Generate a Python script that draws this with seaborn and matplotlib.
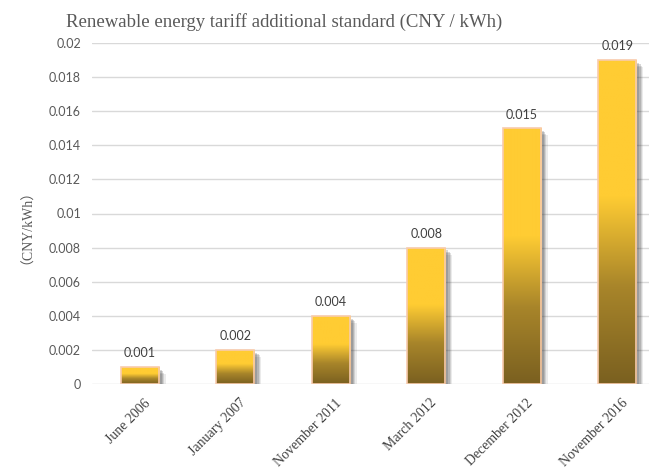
import numpy as np
import pandas as pd
import matplotlib
matplotlib.use("Agg")
import matplotlib.pyplot as plt
import seaborn as sns
from matplotlib.colors import LinearSegmentedColormap
from matplotlib.patches import Rectangle
import matplotlib.patheffects as pe
import matplotlib.transforms as mtransforms

dates = ["June 2006", "January 2007", "November 2011", "March 2012", "December 2012", "November 2016"]
values = [0.001, 0.002, 0.004, 0.008, 0.015, 0.019]
yticks = [0, 0.002, 0.004, 0.006, 0.008, 0.01, 0.012, 0.014, 0.016, 0.018, 0.02]
ytick_labels = ["0", "0.002", "0.004", "0.006", "0.008", "0.01", "0.012", "0.014", "0.016", "0.018", "0.02"]
title = "Renewable energy tariff additional standard (CNY / kWh)"
ylabel = "（CNY/kWh）"

sns.set_theme(style="white")
plt.rcParams['font.family'] = ['Liberation Serif', 'Noto Sans CJK SC', 'DejaVu Sans']

fig = plt.figure(figsize=(6.49, 4.76), dpi=100)
ax = fig.add_axes([92/649, 1-384/476, (649-92)/649, (384-43)/476])

df = pd.DataFrame({"date": dates, "value": values})
sns.barplot(data=df, x="date", y="value", color="#FFCC33", width=0.4,
            linewidth=0, ax=ax, zorder=2)

ax.set_ylim(0, 0.02)
ax.set_xlim(-0.5, -0.5 + (649-92)/95.5)

cmap = LinearSegmentedColormap.from_list(
    "g", [(0.0, "#7a6020"), (0.3, "#a8852a"), (0.58, "#FFCC33"), (1.0, "#FFCC33")])
grad = np.linspace(0, 1, 256).reshape(-1, 1)

shadow = [pe.SimplePatchShadow(offset=(o, -o), shadow_rgbFace="#404040", alpha=a)
          for o, a in [(5, 0.10), (4, 0.15), (3, 0.2), (2, 0.2)]]

for i, p in enumerate(ax.patches):
    x, y0 = p.get_x(), p.get_y()
    w, h = p.get_width(), p.get_height()
    p.set_path_effects(shadow)
    im = ax.imshow(grad, cmap=cmap, extent=[x, x + w, y0, y0 + h], origin="lower",
                   aspect="auto", zorder=3, interpolation="bilinear")
    im.set_clip_path(p)
    ax.add_patch(Rectangle((x, y0), w, h, facecolor="none", edgecolor="#F8CBAD",
                           linewidth=1.2, zorder=4))
    ax.text(x + w / 2, y0 + h + 0.00045, f"{values[i]:.3f}",
            ha="center", va="bottom", fontsize=9, color="#404040", family=["Lato", "DejaVu Sans"])

ax.set_aspect("auto")
ax.set_ylim(0, 0.02)
ax.set_xlim(-0.5, -0.5 + (649-92)/95.5)

ax.set_yticks(yticks)
ax.set_yticklabels(ytick_labels, fontsize=9, color="#595959", family=["Lato", "DejaVu Sans"])
ax.yaxis.grid(True, color="#D9D9D9", linewidth=1, zorder=0)
ax.set_axisbelow(True)
for s in ax.spines.values():
    s.set_visible(False)
ax.tick_params(axis="both", length=0)
ax.tick_params(axis="y", pad=8)

ax.set_xticks(range(len(dates)))
ax.set_xticklabels(dates, rotation=45, ha="right", rotation_mode="anchor",
                   fontsize=10, color="#404040")
ax.tick_params(axis="x", pad=9)
offset = mtransforms.ScaledTranslation(4/100, 0, fig.dpi_scale_trans)
for lbl in ax.get_xticklabels():
    lbl.set_transform(lbl.get_transform() + offset)
ax.set_xlabel("")
ax.set_ylabel("")

fig.text(20/649, 1-220/476, ylabel, rotation=90, ha="center", va="center",
         fontsize=10, color="#595959")
fig.text(284/649, 1-22/476, title, ha="center", va="center", fontsize=13.5, color="#595959")

fig.savefig("out.png", dpi=100)
